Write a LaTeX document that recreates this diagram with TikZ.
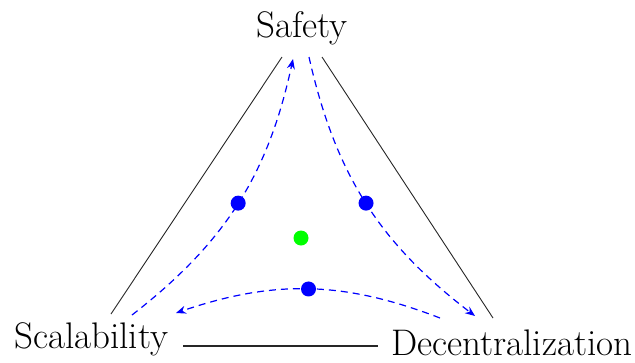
\documentclass[tikz,border=0pt]{standalone}
\usetikzlibrary{arrows.meta}
\begin{document}
\begin{tikzpicture}[x=1pt,y=-1pt,
  lbl/.style={font=\fontsize{37}{42}\selectfont, inner sep=0pt},
  side/.style={draw=black!85, line width=0.9pt},
  flow/.style={draw=blue, line width=1.2pt, dash pattern=on 7pt off 5pt,
    -{Stealth[length=10pt,width=8pt]}},
  bdot/.style={circle, fill=blue, inner sep=0pt, minimum size=15pt},
  gdot/.style={circle, fill=green, inner sep=0pt, minimum size=15pt}]
\useasboundingbox (0,0) rectangle (635,362);
% labels
\node[lbl, anchor=base] (safety) at (302,37) {Safety};
\node[lbl, anchor=base west] (scal) at (14,348) {Scalability};
\node[lbl, anchor=base west] (dec) at (391,355) {Decentralization};
% end points of the sides
\coordinate (sl) at (282,57);
\coordinate (sr) at (322,57);
\coordinate (al) at (111,314);
\coordinate (ar) at (493,318);
\coordinate (bl) at (183,346);
\coordinate (br) at (378,346);
\draw[side] (sl) -- (al);
\draw[side] (sr) -- (ar);
\draw[side, line width=1.1pt] (bl) -- (br);
% end points of the flows
\coordinate (f1s) at (132,315);
\coordinate (f1e) at (293,59);
\coordinate (f2s) at (309,57);
\coordinate (f2e) at (475,316);
\coordinate (f3s) at (440,318);
\coordinate (f3e) at (176,313);
\draw[flow] (f1s) to[bend right=20] node[pos=0.5, bdot] (d1) {} (f1e);
\draw[flow] (f2s) to[bend right=20] node[pos=0.5, bdot] (d2) {} (f2e);
\draw[flow] (f3s) to[bend right=20] node[pos=0.5, bdot] (d3) {} (f3e);
\node[gdot] (g) at (301,238) {};
\end{tikzpicture}
\end{document}
